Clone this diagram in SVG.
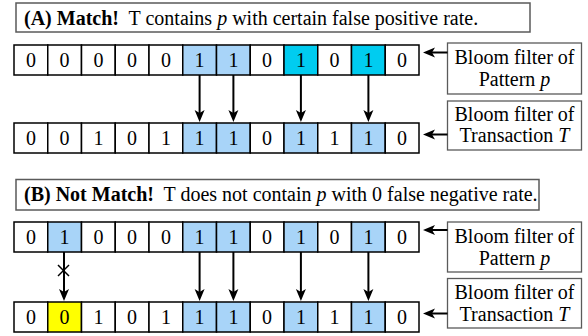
<svg xmlns="http://www.w3.org/2000/svg" xmlns:xlink="http://www.w3.org/1999/xlink" width="588" height="336" viewBox="0 0 588 336">
  <defs>
    <style>
      text { font-family: "Liberation Serif", "Times New Roman", serif; font-size: 20px; fill: #000; }
      .bf-row rect { stroke: #000; stroke-width: 1.5; fill: #fff; }
      .bf-row text { text-anchor: middle; }
      .bf-row .bf-set { fill: #a8d4f8; }
      .bf-row .bf-hit { fill: #00ccf0; }
      .bf-row .bf-miss { fill: #ffff00; }
      .bf-heading rect { fill: #fff; stroke: #5a5a5a; stroke-width: 1.5; }
      .bf-caption rect { fill: #fff; stroke: #5a5a5a; stroke-width: 1.3; }
      .bf-caption text { text-anchor: middle; }
      .bf-links line { stroke: #000; stroke-width: 2; }
      .bf-links use { fill: #000; }
      .bf-cross line { stroke: #000; stroke-width: 1.5; }
      .bf-strong { font-weight: bold; }
      .bf-var { font-style: italic; }
    </style>
    <!-- arrowheads, tip at the origin -->
    <path id="bf-down" d="M0,0 L-5,-12 L0,-9 L5,-12 z"/>
    <path id="bf-left" d="M0,0 L12,-5 L9,0 L12,5 z"/>
  </defs>

  <!-- section A heading -->
  <g id="titleA" class="bf-heading">
    <rect x="16" y="3" width="514" height="29"/>
    <text x="24" y="24.5" font-family="Liberation Serif"><tspan class="bf-strong">(A) Match!</tspan>&#160; T contains <tspan class="bf-var">p</tspan> with certain false positive rate.</text>
  </g>

  <!-- section A: pattern filter -->
  <g id="rowA1" class="bf-row" font-family="Liberation Serif">
    <rect x="14" y="45" width="33.75" height="30"/><text x="30.9" y="66.5">0</text>
    <rect x="47.75" y="45" width="33.75" height="30"/><text x="64.6" y="66.5">0</text>
    <rect x="81.5" y="45" width="33.75" height="30"/><text x="98.4" y="66.5">0</text>
    <rect x="115.25" y="45" width="33.75" height="30"/><text x="132.1" y="66.5">0</text>
    <rect x="149" y="45" width="33.75" height="30"/><text x="165.9" y="66.5">0</text>
    <rect class="bf-set" x="182.75" y="45" width="33.75" height="30"/><text x="199.6" y="66.5">1</text>
    <rect class="bf-set" x="216.5" y="45" width="33.75" height="30"/><text x="233.4" y="66.5">1</text>
    <rect x="250.25" y="45" width="33.75" height="30"/><text x="267.1" y="66.5">0</text>
    <rect class="bf-hit" x="284" y="45" width="33.75" height="30"/><text x="300.9" y="66.5">1</text>
    <rect x="317.75" y="45" width="33.75" height="30"/><text x="334.6" y="66.5">0</text>
    <rect class="bf-hit" x="351.5" y="45" width="33.75" height="30"/><text x="368.4" y="66.5">1</text>
    <rect x="385.25" y="45" width="33.75" height="30"/><text x="402.1" y="66.5">0</text>
  </g>

  <!-- section A: transaction filter -->
  <g id="rowA2" class="bf-row">
    <rect x="14" y="123" width="33.75" height="30"/><text x="30.9" y="144.5">0</text>
    <rect x="47.75" y="123" width="33.75" height="30"/><text x="64.6" y="144.5">0</text>
    <rect x="81.5" y="123" width="33.75" height="30"/><text x="98.4" y="144.5">1</text>
    <rect x="115.25" y="123" width="33.75" height="30"/><text x="132.1" y="144.5">0</text>
    <rect x="149" y="123" width="33.75" height="30"/><text x="165.9" y="144.5">1</text>
    <rect class="bf-set" x="182.75" y="123" width="33.75" height="30"/><text x="199.6" y="144.5">1</text>
    <rect class="bf-set" x="216.5" y="123" width="33.75" height="30"/><text x="233.4" y="144.5">1</text>
    <rect x="250.25" y="123" width="33.75" height="30"/><text x="267.1" y="144.5">0</text>
    <rect class="bf-set" x="284" y="123" width="33.75" height="30"/><text x="300.9" y="144.5">1</text>
    <rect x="317.75" y="123" width="33.75" height="30"/><text x="334.6" y="144.5">1</text>
    <rect class="bf-set" x="351.5" y="123" width="33.75" height="30"/><text x="368.4" y="144.5">1</text>
    <rect x="385.25" y="123" width="33.75" height="30"/><text x="402.1" y="144.5">0</text>
  </g>

  <g id="labelA1" class="bf-caption">
    <rect x="447.5" y="43" width="134" height="51"/>
    <text x="514.5" y="64">Bloom filter of</text>
    <text x="514.5" y="86">Pattern <tspan class="bf-var">p</tspan></text>
  </g>
  <g id="labelA2" class="bf-caption">
    <rect x="447.5" y="101" width="134" height="49"/>
    <text x="514.5" y="121">Bloom filter of</text>
    <text x="514.5" y="142">Transaction <tspan class="bf-var">T</tspan></text>
  </g>

  <!-- section B heading -->
  <g id="titleB" class="bf-heading">
    <rect x="16" y="179.5" width="523" height="30.5"/>
    <text x="24" y="200.5"><tspan class="bf-strong">(B) Not Match!</tspan>&#160; T does not contain <tspan class="bf-var">p</tspan> with 0 false negative rate.</text>
  </g>

  <!-- section B: pattern filter -->
  <g id="rowB1" class="bf-row">
    <rect x="14" y="222" width="33.75" height="30"/><text x="30.9" y="243.5">0</text>
    <rect class="bf-set" x="47.75" y="222" width="33.75" height="30"/><text x="64.6" y="243.5">1</text>
    <rect x="81.5" y="222" width="33.75" height="30"/><text x="98.4" y="243.5">0</text>
    <rect x="115.25" y="222" width="33.75" height="30"/><text x="132.1" y="243.5">0</text>
    <rect x="149" y="222" width="33.75" height="30"/><text x="165.9" y="243.5">0</text>
    <rect class="bf-set" x="182.75" y="222" width="33.75" height="30"/><text x="199.6" y="243.5">1</text>
    <rect class="bf-set" x="216.5" y="222" width="33.75" height="30"/><text x="233.4" y="243.5">1</text>
    <rect x="250.25" y="222" width="33.75" height="30"/><text x="267.1" y="243.5">0</text>
    <rect class="bf-set" x="284" y="222" width="33.75" height="30"/><text x="300.9" y="243.5">1</text>
    <rect x="317.75" y="222" width="33.75" height="30"/><text x="334.6" y="243.5">0</text>
    <rect class="bf-set" x="351.5" y="222" width="33.75" height="30"/><text x="368.4" y="243.5">1</text>
    <rect x="385.25" y="222" width="33.75" height="30"/><text x="402.1" y="243.5">0</text>
  </g>

  <!-- section B: transaction filter -->
  <g id="rowB2" class="bf-row">
    <rect x="14" y="302" width="33.75" height="30"/><text x="30.9" y="323.5">0</text>
    <rect class="bf-miss" x="47.75" y="302" width="33.75" height="30"/><text x="64.6" y="323.5">0</text>
    <rect x="81.5" y="302" width="33.75" height="30"/><text x="98.4" y="323.5">1</text>
    <rect x="115.25" y="302" width="33.75" height="30"/><text x="132.1" y="323.5">0</text>
    <rect x="149" y="302" width="33.75" height="30"/><text x="165.9" y="323.5">1</text>
    <rect class="bf-set" x="182.75" y="302" width="33.75" height="30"/><text x="199.6" y="323.5">1</text>
    <rect class="bf-set" x="216.5" y="302" width="33.75" height="30"/><text x="233.4" y="323.5">1</text>
    <rect x="250.25" y="302" width="33.75" height="30"/><text x="267.1" y="323.5">0</text>
    <rect class="bf-set" x="284" y="302" width="33.75" height="30"/><text x="300.9" y="323.5">1</text>
    <rect x="317.75" y="302" width="33.75" height="30"/><text x="334.6" y="323.5">1</text>
    <rect class="bf-set" x="351.5" y="302" width="33.75" height="30"/><text x="368.4" y="323.5">1</text>
    <rect x="385.25" y="302" width="33.75" height="30"/><text x="402.1" y="323.5">0</text>
  </g>

  <g id="labelB1" class="bf-caption">
    <rect x="447.5" y="222" width="134" height="50"/>
    <text x="514.5" y="243">Bloom filter of</text>
    <text x="514.5" y="265">Pattern <tspan class="bf-var">p</tspan></text>
  </g>
  <g id="labelB2" class="bf-caption">
    <rect x="447.5" y="278.5" width="134" height="49.5"/>
    <text x="514.5" y="299">Bloom filter of</text>
    <text x="514.5" y="320.5">Transaction <tspan class="bf-var">T</tspan></text>
  </g>

  <!-- connectors -->
  <g id="connectors" class="bf-links">
    <line x1="199.6" y1="75" x2="199.6" y2="113"/><use xlink:href="#bf-down" x="199.6" y="122"/>
    <line x1="233.4" y1="75" x2="233.4" y2="113"/><use xlink:href="#bf-down" x="233.4" y="122"/>
    <line x1="300.9" y1="75" x2="300.9" y2="113"/><use xlink:href="#bf-down" x="300.9" y="122"/>
    <line x1="368.4" y1="75" x2="368.4" y2="113"/><use xlink:href="#bf-down" x="368.4" y="122"/>
    <line x1="447.5" y1="52.5" x2="432" y2="52.5"/><use xlink:href="#bf-left" x="423" y="52.5"/>
    <line x1="447.5" y1="134.5" x2="432" y2="134.5"/><use xlink:href="#bf-left" x="423" y="134.5"/>

    <line x1="64" y1="252" x2="64" y2="292"/><use xlink:href="#bf-down" x="64" y="301"/>
    <line x1="199.6" y1="252" x2="199.6" y2="292"/><use xlink:href="#bf-down" x="199.6" y="301"/>
    <line x1="233.4" y1="252" x2="233.4" y2="292"/><use xlink:href="#bf-down" x="233.4" y="301"/>
    <line x1="300.9" y1="252" x2="300.9" y2="292"/><use xlink:href="#bf-down" x="300.9" y="301"/>
    <line x1="368.4" y1="252" x2="368.4" y2="292"/><use xlink:href="#bf-down" x="368.4" y="301"/>
    <line x1="447.5" y1="230" x2="432" y2="230"/><use xlink:href="#bf-left" x="423" y="230"/>
    <line x1="447.5" y1="313.5" x2="432" y2="313.5"/><use xlink:href="#bf-left" x="423" y="313.5"/>
    <g class="bf-cross">
      <line x1="58" y1="265" x2="69" y2="276"/>
      <line x1="58" y1="276" x2="69" y2="265"/>
    </g>
  </g>
</svg>
